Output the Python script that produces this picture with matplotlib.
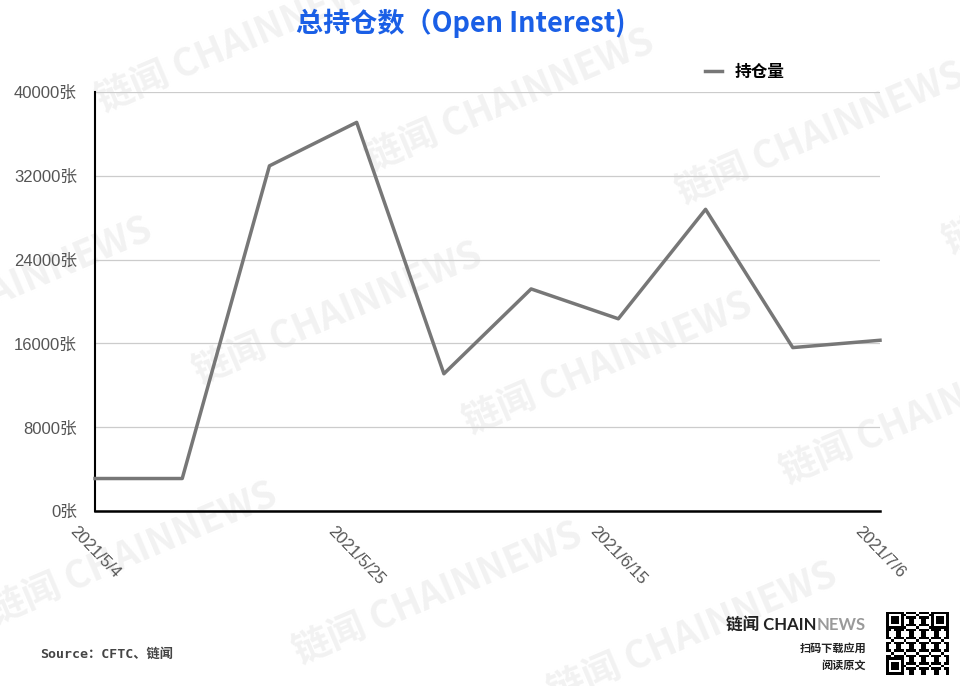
import numpy as np
import matplotlib
matplotlib.use("Agg")
import matplotlib.pyplot as plt

plt.rcParams['font.family'] = ['Liberation Sans', 'Noto Sans CJK SC', 'DejaVu Sans']

# weekly CFTC open interest (contracts)
dates = ["2021/5/4", "2021/5/11", "2021/5/18", "2021/5/25", "2021/6/1",
         "2021/6/8", "2021/6/15", "2021/6/22", "2021/6/29", "2021/7/6"]
open_interest = [3100, 3100, 32950, 37100, 13100, 21200, 18350, 28800, 15600, 16300]
series_name = "持仓量"
yticks = [0, 8000, 16000, 24000, 32000, 40000]
xtick_idx = [0, 3, 6, 9]

W, H = 960, 686
fig = plt.figure(figsize=(W / 100, H / 100), dpi=100)
fig.patch.set_facecolor("white")

def px(x, y):
    return x / W, 1 - y / H

# watermark, start points (pixels) of each "链闻 CHAINNEWS"
wm_starts = [(103, 113), (372, 172), (683, 205), (950, 255),
             (-130, 360), (200, 385), (470, 435), (787, 485),
             (-5, 625), (300, 665), (555, 705)]
for sx, sy in wm_starts:
    fig.text(*px(sx, sy), "链闻 CHAINNEWS", rotation=23, rotation_mode="anchor",
             ha="left", va="baseline", fontsize=27, fontweight="bold",
             color="#f2f2f2", family=["Noto Sans CJK SC"], zorder=-5)

ax = fig.add_axes([95 / W, 1 - 511 / H, (880 - 95) / W, (511 - 92) / H])
ax.patch.set_alpha(0)

x = np.arange(len(dates))
ax.plot(x, open_interest, color="#777777", lw=2.5, label=series_name, clip_on=False, zorder=3)

ax.set_xlim(0, len(dates) - 1)
ax.set_ylim(0, 40000)
ax.set_yticks(yticks)
ax.set_yticklabels([f"{v}张" for v in yticks])
ax.set_xticks(xtick_idx)
ax.set_xticklabels([dates[i] for i in xtick_idx], rotation=-46, ha="center", va="top")
ax.tick_params(axis="y", length=0, pad=13, labelsize=12, labelcolor="#555555")
ax.tick_params(axis="x", length=0, pad=9, labelsize=12, labelcolor="#555555")

ax.grid(axis="y", color="#cccccc", lw=0.9)
ax.set_axisbelow(True)
for s in ["top", "right"]:
    ax.spines[s].set_visible(False)
ax.spines["left"].set_linewidth(1.5)
ax.spines["bottom"].set_linewidth(1.8)
ax.spines["left"].set_color("black")
ax.spines["bottom"].set_color("black")

leg = ax.legend(loc="center left", bbox_to_anchor=px(705, 72), bbox_transform=fig.transFigure,
                frameon=False, handlelength=1.0, handletextpad=0.8, borderpad=0, borderaxespad=0,
                prop=dict(family=["Noto Sans CJK SC"], weight="bold", size=12))

# title
fig.text(*px(461, 23), "总持仓数（Open Interest)", ha="center", va="center",
         fontsize=19.5, fontweight="bold", color="#1a5fe6", family=["Noto Sans CJK SC"])

# source
fig.text(*px(40, 654), "Source：CFTC、链闻", ha="left", va="center", fontsize=9.5,
         fontweight="bold", color="#444444", family=["DejaVu Sans Mono", "Noto Sans CJK SC"])

# logo block
renderer = fig.canvas.get_renderer()
t_news = fig.text(*px(866, 625), "NEWS", ha="right", va="center", fontsize=12,
                  fontweight="bold", color="#9a9a9a", family=["Lato"])
bb = t_news.get_window_extent(renderer)
fig.text(bb.x0 / W, 1 - 625 / H, "链闻 CHAIN", ha="right", va="center", fontsize=12,
         fontweight="bold", color="#222222", family=["Lato", "Noto Sans CJK SC"])
fig.text(*px(866, 648), "扫码下载应用", ha="right", va="center", fontsize=8,
         fontweight="bold", color="#222222", family=["Noto Sans CJK SC"])
fig.text(*px(866, 665), "阅读原文", ha="right", va="center", fontsize=8,
         fontweight="bold", color="#222222", family=["Noto Sans CJK SC"])

# qr-like badge
qax = fig.add_axes([885 / W, 1 - 675 / H, 64 / W, 63 / H])
n = 25
i, j = np.mgrid[0:n, 0:n]
qr = ((i * i * 7 + j * j * 13 + i * j * 5 + i + 3 * j) % 5 < 2).astype(float)
for (r0, c0) in [(0, 0), (0, n - 7), (n - 7, 0)]:
    rr, cc = np.mgrid[0:7, 0:7]
    d = np.maximum(abs(rr - 3), abs(cc - 3))
    qr[r0:r0 + 7, c0:c0 + 7] = ((d == 3) | (d <= 1)).astype(float)
qax.imshow(qr, cmap="gray_r", interpolation="nearest")
qax.axis("off")

fig.savefig("out.png", dpi=100, facecolor="white")
